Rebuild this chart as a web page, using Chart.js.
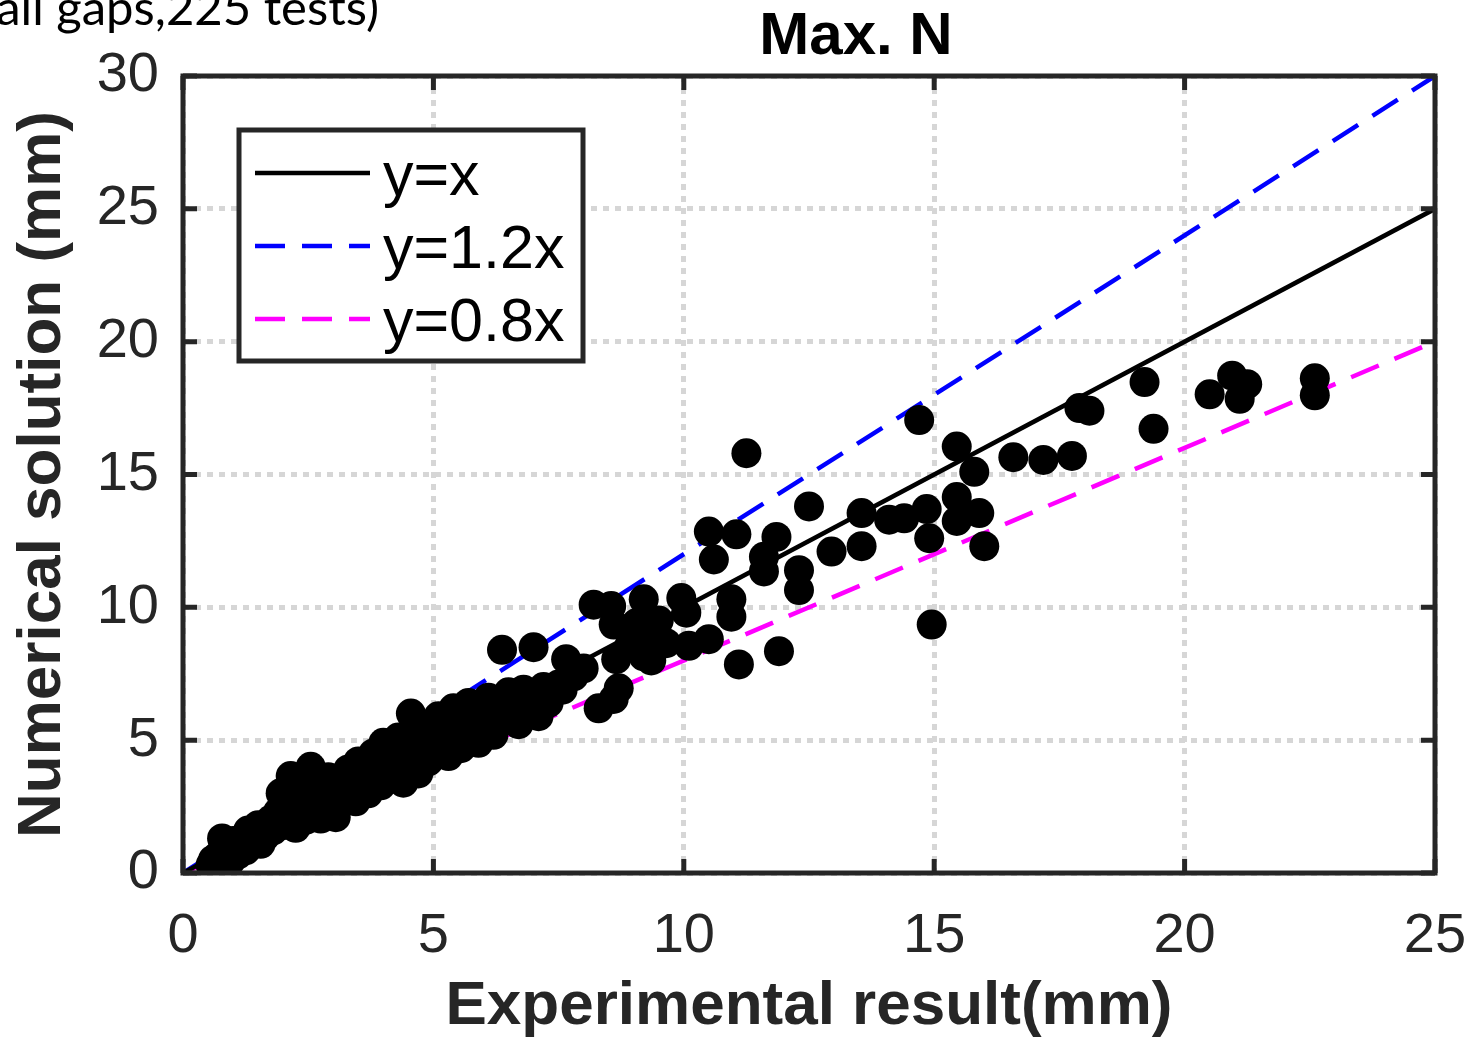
<!DOCTYPE html>
<html>
<head>
<meta charset="utf-8">
<script src="https://cdn.jsdelivr.net/npm/chart.js@4.4.1/dist/chart.umd.min.js"></script>
<style>
  html, body { margin: 0; padding: 0; background: #fff; }
</style>
</head>
<body>
<canvas id="maxN" width="1476" height="1038"></canvas>
<script>
// experimental vs numerical max. N (mm)
const expX = [
  0.55, 0.60, 0.70, 0.78, 0.85, 0.95, 1.00, 1.10, 1.15, 1.25,
  1.30, 1.40, 1.50, 1.55, 1.65, 1.75, 1.80, 1.90, 1.95, 2.00,
  2.10, 2.15, 2.20, 2.25, 2.30, 2.40, 2.45, 2.55, 2.60, 2.65,
  2.75, 2.80, 2.90, 2.95, 3.05, 3.10, 3.20, 3.30, 3.40, 3.45,
  3.50, 3.60, 3.70, 3.80, 3.85, 3.95, 4.00, 4.10, 4.20, 4.30,
  4.35, 4.40, 4.50, 4.55, 4.60, 4.70, 4.75, 4.85, 4.90, 5.00,
  5.10, 5.15, 5.25, 5.30, 5.40, 5.45, 5.55, 5.60, 5.70, 5.80,
  5.90, 5.95, 6.05, 6.10, 6.20, 6.30, 6.37, 6.40, 6.50, 6.60,
  6.70, 6.80, 6.90, 7.00, 7.00, 7.10, 7.20, 7.30, 7.50, 7.58,
  7.65, 7.80, 8.00, 8.20, 8.30, 8.55, 8.60, 8.60, 8.70, 8.65,
  8.90, 9.20, 9.05, 9.30, 9.50, 9.20, 9.35, 9.65, 9.95, 10.05,
  10.10, 10.50, 10.50, 10.60, 11.05, 11.25, 10.95, 10.95, 11.10, 11.90,
  11.60, 11.85, 11.60, 12.30, 12.30, 12.50, 12.95, 13.55, 13.55, 14.10,
  14.40, 14.85, 14.90, 14.70, 15.45, 15.80, 15.45, 15.90, 15.45, 16.00,
  14.95, 16.58, 17.18, 17.75, 17.90, 18.10, 19.20, 19.38, 20.50, 20.95,
  21.25, 21.10, 22.60, 22.60
];
const numY = [
  0.30, 0.50, 0.65, 1.30, 0.90, 0.45, 1.20, 0.70, 1.00, 0.85,
  1.60, 1.30, 1.80, 1.10, 1.40, 2.00, 1.60, 2.30, 3.00, 1.80,
  2.60, 3.65, 2.20, 1.70, 3.20, 2.80, 2.00, 4.00, 3.40, 2.40,
  2.05, 3.00, 3.60, 2.60, 2.10, 3.30, 2.80, 3.90, 3.10, 2.70,
  4.20, 3.50, 3.00, 4.50, 3.90, 3.30, 4.90, 4.20, 3.60, 5.10,
  4.50, 3.40, 4.00, 6.00, 5.30, 3.75, 4.80, 5.50, 4.20, 5.00,
  5.90, 4.50, 5.40, 4.40, 6.20, 5.00, 4.70, 5.70, 6.40, 5.30,
  4.90, 6.00, 5.60, 6.60, 5.20, 6.20, 8.40, 5.80, 6.80, 6.30,
  5.60, 6.90, 6.10, 8.50, 6.60, 5.90, 7.00, 6.40, 7.10, 6.90,
  8.05, 7.40, 7.70, 10.10, 6.20, 10.05, 9.35, 6.55, 6.95, 8.05,
  8.50, 10.30, 9.40, 9.00, 9.50, 8.15, 8.00, 8.65, 10.35, 9.80,
  8.55, 8.80, 12.85, 11.80, 12.75, 15.80, 10.30, 9.65, 7.85, 8.35,
  11.90, 12.65, 11.35, 11.40, 10.65, 13.80, 12.10, 13.55, 12.30, 13.30,
  13.35, 13.70, 12.60, 17.05, 16.05, 15.10, 14.15, 13.55, 13.25, 12.30,
  9.35, 15.65, 15.55, 15.70, 17.50, 17.40, 18.48, 16.72, 18.02, 18.72,
  18.40, 17.85, 18.62, 17.98
];

// reference lines, end points
const refX = [0, 25];
const refEq = [0, 25];
const refUp = [0, 30];
const refLow = [0, 20];

const xTicks = [0, 5, 10, 15, 20, 25];
const yTicks = [0, 5, 10, 15, 20, 25, 30];

const lineNames = ['y=x', 'y=1.2x', 'y=0.8x'];
const lineColors = ['#000000', '#0000ff', '#ff00ff'];
const lineDash = [[], [30, 17], [30, 17]];

const axisColor = '#262626';

const toPoints = (xs, ys) => xs.map((v, i) => ({ x: v, y: ys[i] }));

// box, inward ticks, legend and the texts on top
const decorations = {
  id: 'decorations',
  afterDatasetsDraw(chart) {
    const { ctx, chartArea: a, scales: { x, y } } = chart;
    ctx.save();

    ctx.strokeStyle = axisColor;
    ctx.lineWidth = 5;
    ctx.strokeRect(a.left, a.top, a.right - a.left, a.bottom - a.top);

    ctx.beginPath();
    xTicks.forEach(v => {
      const px = x.getPixelForValue(v);
      ctx.moveTo(px, a.bottom); ctx.lineTo(px, a.bottom - 14);
      ctx.moveTo(px, a.top); ctx.lineTo(px, a.top + 14);
    });
    yTicks.forEach(v => {
      const py = y.getPixelForValue(v);
      ctx.moveTo(a.left, py); ctx.lineTo(a.left + 14, py);
      ctx.moveTo(a.right, py); ctx.lineTo(a.right - 14, py);
    });
    ctx.stroke();

    // legend
    ctx.fillStyle = '#fff';
    ctx.fillRect(239, 130, 344, 231);
    ctx.strokeRect(239, 130, 344, 231);
    ctx.font = '61px "Liberation Sans", Arial, sans-serif';
    ctx.textBaseline = 'alphabetic';
    ctx.textAlign = 'left';
    lineNames.forEach((name, i) => {
      const ly = 173 + i * 73;
      ctx.beginPath();
      ctx.strokeStyle = lineColors[i];
      ctx.lineWidth = 4.5;
      ctx.setLineDash(lineDash[i]);
      ctx.moveTo(255, ly);
      ctx.lineTo(370, ly);
      ctx.stroke();
      ctx.setLineDash([]);
      ctx.fillStyle = '#000';
      ctx.fillText(name, 383, ly + 22);
    });

    // title
    ctx.fillStyle = '#000';
    ctx.textAlign = 'center';
    ctx.font = 'bold 60px "Liberation Sans", Arial, sans-serif';
    ctx.fillText('Max. N', 856, 54);

    // cut-off caption from the page above
    ctx.textAlign = 'right';
    ctx.font = '49px Lato, "Open Sans", sans-serif';
    ctx.fillText('all gaps,225 tests)', 379, 25);

    ctx.restore();
  }
};

const ctx = document.getElementById('maxN').getContext('2d');
const chart = new Chart(ctx, {
  type: 'scatter',
  data: {
    datasets: [
      {
        label: 'tests',
        data: toPoints(expX, numY),
        backgroundColor: '#000',
        borderColor: '#000',
        pointRadius: 15,
        pointHoverRadius: 15,
        borderWidth: 0,
        order: 0
      },
      {
        type: 'line', label: lineNames[0], data: toPoints(refX, refEq),
        borderColor: lineColors[0], borderWidth: 4.5, borderDash: lineDash[0],
        pointRadius: 0, fill: false, order: 1
      },
      {
        type: 'line', label: lineNames[1], data: toPoints(refX, refUp),
        borderColor: lineColors[1], borderWidth: 4.5, borderDash: lineDash[1],
        pointRadius: 0, fill: false, order: 2
      },
      {
        type: 'line', label: lineNames[2], data: toPoints(refX, refLow),
        borderColor: lineColors[2], borderWidth: 4.5, borderDash: lineDash[2],
        pointRadius: 0, fill: false, order: 3
      }
    ]
  },
  options: {
    responsive: false,
    animation: false,
    layout: { padding: { top: 76, right: 41, left: 0, bottom: 0 } },
    plugins: { legend: { display: false }, tooltip: { enabled: false } },
    scales: {
      x: {
        type: 'linear', min: 0, max: 25,
        afterBuildTicks: s => { s.ticks = xTicks.map(v => ({ value: v })); },
        afterFit: s => { s.height = 165; s.paddingLeft = 0; s.paddingRight = 0; },
        ticks: {
          autoSkip: false, maxRotation: 0, padding: 30, color: axisColor,
          font: { family: '"Liberation Sans", Arial, sans-serif', size: 56 }
        },
        grid: { color: '#d6d6d6', lineWidth: 5, drawTicks: false },
        border: { display: false, dash: [6, 6] },
        title: {
          display: true, text: 'Experimental result(mm)', color: axisColor,
          padding: 0,
          font: { family: '"Liberation Sans", Arial, sans-serif', size: 62, weight: 'bold', lineHeight: 1.0 }
        }
      },
      y: {
        type: 'linear', min: 0, max: 30,
        afterBuildTicks: s => { s.ticks = yTicks.map(v => ({ value: v })); },
        afterFit: s => { s.width = 183; s.paddingTop = 0; s.paddingBottom = 0; },
        ticks: {
          autoSkip: false, padding: 24, color: axisColor,
          font: { family: '"Liberation Sans", Arial, sans-serif', size: 56 }
        },
        grid: { color: '#d6d6d6', lineWidth: 5, drawTicks: false },
        border: { display: false, dash: [6, 6] },
        title: {
          display: true, text: 'Numerical solution (mm)', color: axisColor,
          padding: 0,
          font: { family: '"Liberation Sans", Arial, sans-serif', size: 62, weight: 'bold', lineHeight: 1.4 }
        }
      }
    }
  },
  plugins: [decorations]
});
</script>
</body>
</html>
